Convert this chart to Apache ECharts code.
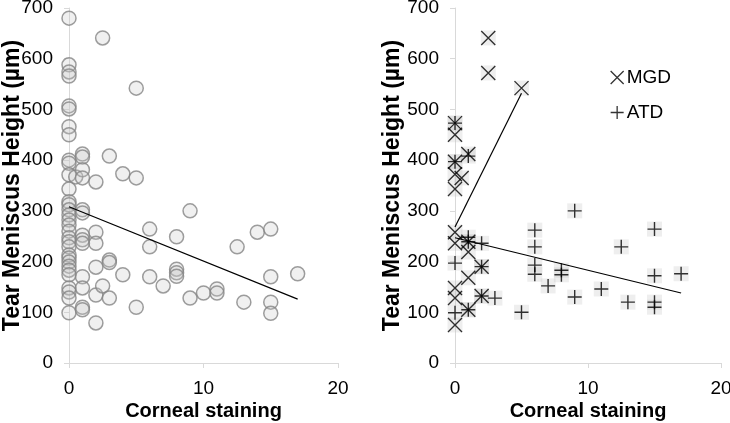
<!DOCTYPE html>
<html>
<head>
<meta charset="utf-8">
<script src="https://cdn.jsdelivr.net/npm/echarts@6/dist/echarts.min.js"></script>
<style>
html,body{margin:0;padding:0;background:#fff;}
#c{width:730px;height:423px;}
</style>
</head>
<body>
<div id="c"></div>
<script>
// ---- data ----
const xTitle = 'Corneal staining';
const yTitle = 'Tear Meniscus Height (µm)';
const seriesNames = ['MGD', 'ATD'];

// left panel: all patients [corneal staining, TMH]
const allPatients = [
  [0,680],[0,588],[0,574],[0,566],[0,507],[0,501],[0,466],[0,450],[0,400],[0,394],
  [0,371],[0,343],[0,318],[0,312],[0,302],[0,292],[0,282],[0,272],[0,260],[0,247],
  [0,239],[0,229],[0,213],[0,207],[0,199],[0,191],[0,183],[0,174],[0,148],[0,140],
  [0,128],[0,99],
  [0.5,367],
  [1,412],[1,406],[1,381],[1,365],[1,302],[1,296],[1,252],[1,243],[1,236],[1,170],
  [1,148],[1,110],[1,105],
  [2,357],[2,258],[2,236],[2,189],[2,134],[2,79],
  [2.5,641],[2.5,152],
  [3,408],[3,203],[3,198],[3,128],
  [4,373],[4,174],
  [5,542],[5,365],[5,110],
  [6,264],[6,229],[6,170],
  [7,152],
  [8,249],[8,185],[8,178],[8,171],
  [9,300],[9,128],
  [10,138],
  [11,146],[11,138],
  [12.5,229],
  [13,120],
  [14,258],
  [15,264],[15,170],[15,120],[15,98],
  [17,176]
];
const allTrend = [[0,308],[17,126]];

// right panel
const mgdPoints = [
  [0,473],[0,450],[1,412],[0,397],[0,372],[0.5,365],[0,343],[2.5,641],[2.5,572],[5,542],
  [0,258],[0,236],[1,239],[1,219],[2,190],[1,168],[0,148],[0,128],[2,132],[1,105],[0,75]
];
const atdPoints = [
  [0,473],[1,408],[0,397],[1,248],[1,239],[2,236],[0,197],[2,190],[2,132],[3,128],
  [0,99],[1,105],[5,100],[6,262],[6,229],[6,193],[6,175],[8,183],[8,174],[7,152],
  [9,300],[9,130],[11,146],[12.5,229],[13,120],[15,264],[15,172],[15,120],[15,110],[17,176]
];
const mgdTrend = [[0,268],[5,532]];
const atdTrend = [[0,247],[17,138]];

const xMin = 0, xMax = 20, xStep = 10;
const yMin = 0, yMax = 700, yStep = 100;

// ---- styling ----
const FONT = "'Liberation Sans', Arial, sans-serif";
const AX = '#d9d9d9';
const crossPath = 'path://M0,0 L10,10 M10,0 L0,10';
const plusPath = 'path://M5,0 L5,10 M0,5 L10,5';

function xAxis(idx) {
  return {
    gridIndex: idx, type: 'value', min: xMin, max: xMax, interval: xStep,
    name: xTitle, nameLocation: 'middle', nameGap: 38, nameMoveOverlap: false,
    nameTextStyle: { fontFamily: FONT, fontSize: 20, fontWeight: 'bold', color: '#000' },
    axisLine: { show: true, onZero: false, lineStyle: { color: AX, width: 1 } },
    axisTick: { show: true, length: 5, lineStyle: { color: AX } },
    axisLabel: { fontFamily: FONT, fontSize: 19, color: '#000', margin: 16 },
    splitLine: { show: false }
  };
}
function yAxis(idx, gap) {
  return {
    gridIndex: idx, type: 'value', min: yMin, max: yMax, interval: yStep,
    name: yTitle, nameLocation: 'middle', nameGap: gap, nameRotate: 90, nameMoveOverlap: false,
    nameTextStyle: { fontFamily: FONT, fontSize: 23, fontWeight: 'bold', color: '#000' },
    axisLine: { show: true, onZero: false, lineStyle: { color: AX, width: 1 } },
    axisTick: { show: true, length: 5, lineStyle: { color: AX } },
    axisLabel: { fontFamily: FONT, fontSize: 19, color: '#000', margin: 16 },
    splitLine: { show: false }
  };
}

const bgStyle = { color: 'rgba(195,195,195,0.35)', borderWidth: 0 };
const strokeStyle = { color: 'rgba(0,0,0,0)', borderColor: '#000', borderWidth: 1.4 };

const option = {
  animation: false,
  backgroundColor: '#fff',
  grid: [
    { left: 69, top: 8, width: 269, height: 355, containLabel: false, outerBoundsMode: 'none' },
    { left: 455, top: 8, width: 266, height: 355, containLabel: false, outerBoundsMode: 'none' }
  ],
  xAxis: [xAxis(0), xAxis(1)],
  yAxis: [yAxis(0, 45), yAxis(1, 51)],
  legend: {
    data: [
      { name: seriesNames[0], icon: crossPath },
      { name: seriesNames[1], icon: plusPath }
    ],
    orient: 'vertical', left: 605, top: 63, itemGap: 16,
    itemWidth: 13, itemHeight: 13,
    textStyle: { fontFamily: FONT, fontSize: 19, color: '#000', padding: [0,0,0,-2] },
    itemStyle: { color: 'rgba(0,0,0,0)', borderColor: '#000', borderWidth: 1.3 },
    selectedMode: false
  },
  series: [
    {
      type: 'scatter', xAxisIndex: 0, yAxisIndex: 0, data: allPatients,
      symbol: 'circle', symbolSize: 14,
      itemStyle: { color: 'rgba(200,200,200,0.35)', borderColor: '#858585', borderWidth: 1.5 },
      z: 2
    },
    {
      type: 'line', xAxisIndex: 0, yAxisIndex: 0, data: allTrend,
      showSymbol: false, symbol: 'none', lineStyle: { color: '#000', width: 1.2 }, z: 3
    },
    {
      type: 'scatter', xAxisIndex: 1, yAxisIndex: 1, data: mgdPoints,
      symbol: 'rect', symbolSize: 15, itemStyle: bgStyle, z: 1, silent: true
    },
    {
      type: 'scatter', xAxisIndex: 1, yAxisIndex: 1, data: atdPoints,
      symbol: 'rect', symbolSize: 15, itemStyle: bgStyle, z: 1, silent: true
    },
    {
      name: seriesNames[0], type: 'scatter', xAxisIndex: 1, yAxisIndex: 1, data: mgdPoints,
      symbol: crossPath, symbolSize: 14, itemStyle: strokeStyle, z: 3
    },
    {
      name: seriesNames[1], type: 'scatter', xAxisIndex: 1, yAxisIndex: 1, data: atdPoints,
      symbol: plusPath, symbolSize: 14, itemStyle: strokeStyle, z: 3
    },
    {
      type: 'line', xAxisIndex: 1, yAxisIndex: 1, data: mgdTrend,
      showSymbol: false, symbol: 'none', lineStyle: { color: '#000', width: 1.2 }, z: 4
    },
    {
      type: 'line', xAxisIndex: 1, yAxisIndex: 1, data: atdTrend,
      showSymbol: false, symbol: 'none', lineStyle: { color: '#000', width: 1.2 }, z: 4
    }
  ]
};

const chart = echarts.init(document.getElementById('c'), null, { renderer: 'canvas' });
chart.setOption(option);
</script>
</body>
</html>
